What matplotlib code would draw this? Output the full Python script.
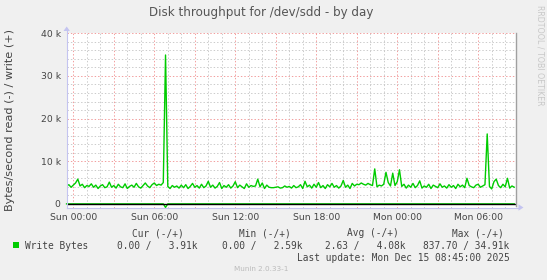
import numpy as np
import matplotlib
matplotlib.use("Agg")
import matplotlib.pyplot as plt
from matplotlib.patches import Polygon, Rectangle

# write throughput (k bytes/s), 10 minute steps starting Sat 23:30 (hours rel. to Sun 00:00)
t_start = -0.5
step_h = 1 / 6
write_k = [
    4.2, 4.5, 3.9, 4.4, 4.9, 5.8, 4.2, 4.6, 3.8, 4.3, 4.1, 4.7,
    3.9, 4.4, 3.6, 4.2, 4.5, 3.8, 4.0, 5.1, 3.9, 4.3, 3.7, 4.6,
    4.0, 3.8, 4.7, 3.6, 4.1, 4.4, 3.9, 4.8, 4.0, 3.7, 4.3, 4.9,
    4.2, 3.8, 4.5, 4.9, 4.3, 4.6, 4.4, 5.0, 34.91, 4.1, 3.6, 4.3,
    3.9, 4.2, 3.7, 4.4, 3.8, 4.5, 3.6, 4.1, 4.8, 3.9, 4.3, 3.7,
    4.6, 3.8, 4.2, 5.3, 3.9, 4.4, 3.7, 4.1, 5.0, 3.6, 4.3, 3.9,
    4.5, 3.7, 4.2, 5.2, 3.8, 4.4, 4.0, 3.6, 4.7, 3.9, 4.3, 4.1,
    4.2, 5.8, 4.0, 4.9, 3.6, 4.4, 3.9, 3.8, 3.8, 3.9, 4.0, 3.7,
    3.8, 4.2, 3.9, 4.1, 3.7, 4.3, 3.8, 4.0, 4.5, 3.6, 5.3, 4.0,
    4.4, 3.7, 4.6, 3.9, 5.0, 3.8, 4.3, 3.6, 4.5, 4.0, 4.8, 3.9,
    4.3, 3.7, 4.2, 5.5, 3.9, 4.4, 3.6, 4.8, 4.2, 4.6, 4.5, 4.9,
    4.6, 4.4, 4.8, 4.5, 4.3, 8.2, 4.0, 4.4, 4.2, 4.6, 7.4, 5.0,
    4.2, 7.2, 4.3, 5.2, 8.0, 4.1, 4.6, 3.7, 4.4, 3.9, 4.8, 3.8,
    4.3, 5.4, 3.7, 4.2, 3.9, 4.6, 3.6, 4.4, 4.1, 3.8, 4.7, 3.9,
    4.2, 3.7, 4.5, 3.9, 4.3, 3.6, 4.6, 4.0, 4.4, 3.8, 6.0, 4.3,
    4.0, 3.8, 4.4, 4.6, 3.9, 4.2, 4.5, 16.4, 4.1, 3.5, 5.2, 5.8,
    4.3, 3.8, 4.6, 4.0, 6.0, 3.7, 4.2, 3.91,
]
# read (drawn negative), only one small blip
read_t = [-0.5, 6.67, 6.83, 7.0, 32.67]
read_b = [0, 0, 837.7, 0, 0]

xtick_hours = [0, 6, 12, 18, 24, 30]
xtick_labels = ["Sun 00:00", "Sun 06:00", "Sun 12:00", "Sun 18:00", "Mon 00:00", "Mon 06:00"]
ytick_vals = [0, 10000, 20000, 30000, 40000]
ytick_labels = ["0", "10 k", "20 k", "30 k", "40 k"]

legend_heads = ["Cur (-/+)", "Min (-/+)", "Avg (-/+)", "Max (-/+)"]
legend_vals = ["0.00 /   3.91k", "0.00 /   2.59k", "2.63 /   4.08k", "837.70 / 34.91k"]

W, H = 547, 280
BG = "#F0F0F0"
TXT = "#444444"
GREEN = "#00CC00"
AXC = "#C4C4F0"


def fx(x):
    return x / W


def fy(y):
    return 1 - y / H


fig = plt.figure(figsize=(W / 100, H / 100), dpi=100, facecolor=BG)

L, R, T, B = 66.7, 516.0, 33.3, 207.5
ax = fig.add_axes([fx(L), fy(B), (R - L) / W, (B - T) / H])
ax.set_facecolor("white")
for s in ax.spines.values():
    s.set_visible(False)

ax.set_xlim(-0.49, 32.8)
ax.set_ylim(-850, 40000)

# grid
dots = (0, (1.4, 2.0))
for h in np.arange(0, 33, 1):
    if h % 3 == 0:
        continue
    ax.axvline(h, color="#CCCCCC", lw=0.72, ls=dots, zorder=1)
for v in np.arange(2000, 40001, 2000):
    if v % 10000 == 0:
        continue
    ax.axhline(v, color="#CCCCCC", lw=0.72, ls=dots, zorder=1)
for h in np.arange(0, 33, 3):
    ax.axvline(h, color="#F2A0A0", lw=0.72, ls=dots, zorder=1.5)
for v in [10000, 20000, 30000, 40000]:
    ax.axhline(v, color="#F2A0A0", lw=0.72, ls=dots, zorder=1.5)

# data
t = t_start + np.arange(len(write_k)) * step_h
ax.plot(t, np.array(write_k) * 1000, color=GREEN, lw=1.0, zorder=3)
ax.plot(read_t, -np.array(read_b), color=GREEN, lw=1.0, zorder=3, clip_on=False)
ax.axhline(0, color="black", lw=1.0, zorder=4)

ax.set_xticks(xtick_hours)
ax.set_xticklabels(xtick_labels)
ax.set_yticks(ytick_vals)
ax.set_yticklabels(ytick_labels)
ax.tick_params(axis="both", length=0, colors=TXT, labelsize=6.7)
ax.tick_params(axis="x", pad=4)
ax.tick_params(axis="y", pad=4.3)

# axis lines with arrows (pixel coords)
fig.add_artist(plt.Line2D([fx(L), fx(L)], [fy(B + 0.5), fy(29)], color=AXC, lw=0.8))
fig.add_artist(plt.Line2D([fx(L), fx(519)], [fy(B), fy(B)], color=AXC, lw=0.8))
fig.add_artist(Polygon([[fx(63.5), fy(31)], [fx(69.9), fy(31)], [fx(L), fy(26.5)]],
                       closed=True, color=AXC, lw=0))
fig.add_artist(Polygon([[fx(518.5), fy(204.3)], [fx(518.5), fy(210.7)], [fx(523.5), fy(B)]],
                       closed=True, color=AXC, lw=0))
fig.add_artist(plt.Line2D([fx(R), fx(R)], [fy(T), fy(B - 2)], color="#A0A0A0", lw=1.0))

# texts
fig.text(fx(261), fy(12.5), "Disk throughput for /dev/sdd - by day", ha="center", va="center",
         fontsize=8.6, color="#555555")
fig.text(fx(10), fy(120), "Bytes/second read (-) / write (+)", rotation=90, ha="center",
         va="center", fontsize=8.1, color=TXT)
fig.text(fx(540), fy(5), "RRDTOOL / TOBI OETIKER", rotation=270, ha="center", va="top",
         fontsize=5.7, color="#C8C8C8")

mono = "DejaVu Sans Mono"
head_x = [132.3, 239.3, 346.7, 452.3]
for x, s in zip(head_x, legend_heads):
    fig.text(fx(x), fy(233.3), s, family=mono, fontsize=6.85, color=TXT, ha="left", va="center")
val_right = [197.8, 302.2, 405.5, 509.5]
for x, s in zip(val_right, legend_vals):
    fig.text(fx(x), fy(245.7), s, family=mono, fontsize=6.85, color=TXT, ha="right", va="center")
fig.add_artist(Rectangle((fx(13.3), fy(248.2)), 5.8 / W, 5.8 / H, color=GREEN, lw=0))
fig.text(fx(25), fy(245.7), "Write Bytes", family=mono, fontsize=6.85, color=TXT, ha="left", va="center")
fig.text(fx(509.5), fy(257.7), "Last update: Mon Dec 15 08:45:00 2025", family=mono, fontsize=6.85,
         color=TXT, ha="right", va="center")
fig.text(fx(261), fy(269), "Munin 2.0.33-1", ha="center", va="center", fontsize=5.2, color="#BBBBBB")

fig.savefig("out.png", dpi=100, facecolor=BG)
